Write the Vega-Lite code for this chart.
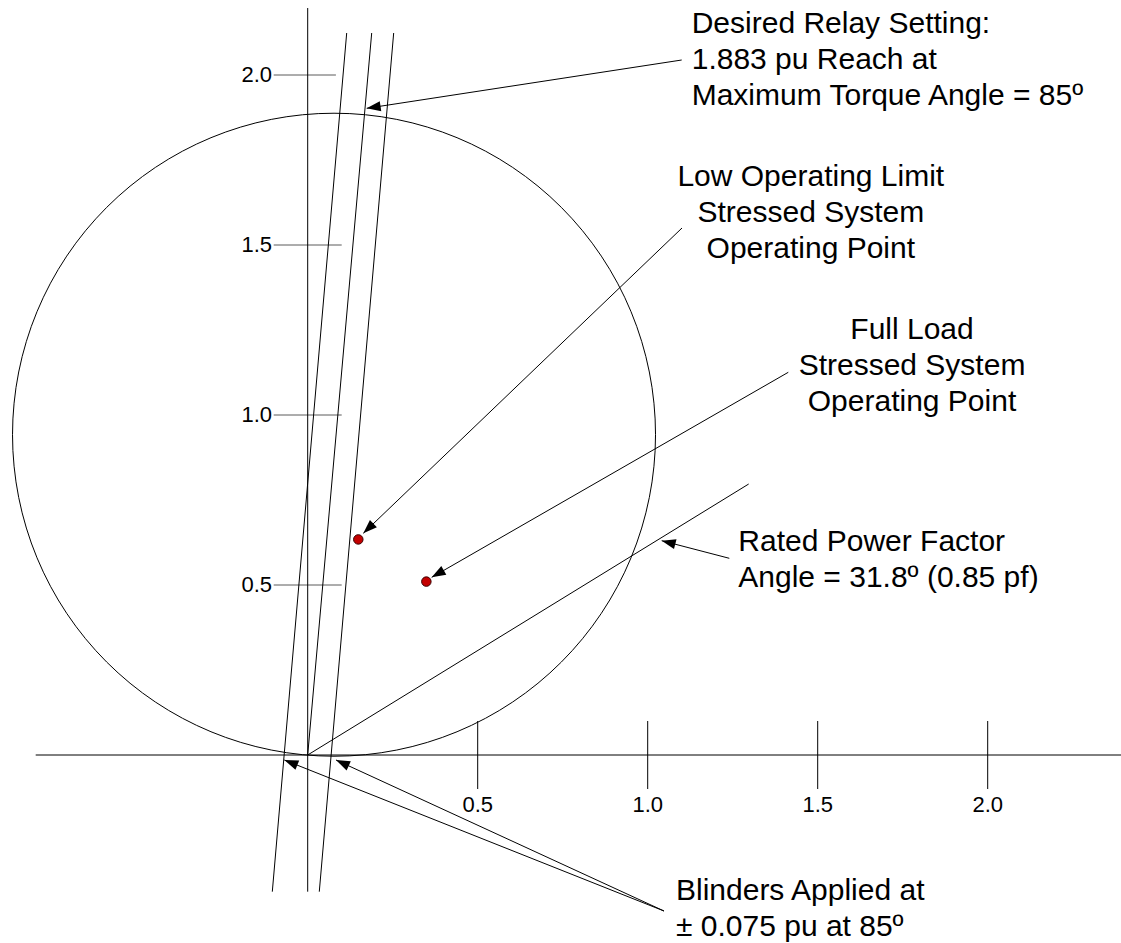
{
  "$schema": "https://vega.github.io/schema/vega-lite/v6.json",
  "width": 1121,
  "height": 943,
  "autosize": "none",
  "padding": 0,
  "background": "white",
  "config": {"view": {"stroke": null}},
  "datasets": {
    "lines": [
      {"x": 0, "y": 2.197, "x2": 0, "y2": -0.402},
      {"x": -0.80, "y": 0, "x2": 2.40, "y2": 0},
      {"x": 0, "y": 0, "x2": 0.1882, "y2": 2.1235},
      {"x": 0.1147, "y": 2.1235, "x2": -0.1041, "y2": -0.402},
      {"x": 0.2529, "y": 2.1235, "x2": 0.0341, "y2": -0.402},
      {"x": 0, "y": 0, "x2": 1.297, "y2": 0.797},
      {"x": 0.5, "y": 0.1, "x2": 0.5, "y2": -0.1},
      {"x": 1.0, "y": 0.1, "x2": 1.0, "y2": -0.1},
      {"x": 1.5, "y": 0.1, "x2": 1.5, "y2": -0.1},
      {"x": 2.0, "y": 0.1, "x2": 2.0, "y2": -0.1}
    ],
    "yticks": [
      {"x": -0.1, "y": 2.0, "x2": 0.083, "y2": 2.0},
      {"x": -0.1, "y": 1.5, "x2": 0.1, "y2": 1.5},
      {"x": -0.1, "y": 1.0, "x2": 0.1, "y2": 1.0},
      {"x": -0.1, "y": 0.5, "x2": 0.1, "y2": 0.5}
    ],
    "ylabels": [
      {"x": -0.105, "y": 2.0, "label": "2.0"},
      {"x": -0.105, "y": 1.5, "label": "1.5"},
      {"x": -0.105, "y": 1.0, "label": "1.0"},
      {"x": -0.105, "y": 0.5, "label": "0.5"}
    ],
    "xlabels": [
      {"x": 0.5, "y": -0.167, "label": "0.5"},
      {"x": 1.0, "y": -0.167, "label": "1.0"},
      {"x": 1.5, "y": -0.167, "label": "1.5"},
      {"x": 2.0, "y": -0.167, "label": "2.0"}
    ],
    "circle": [{"cx": 0.0774, "cy": 0.942}],
    "points": [
      {"x": 0.1488, "y": 0.634, "name": "Low Operating Limit"},
      {"x": 0.349, "y": 0.510, "name": "Full Load"}
    ],
    "arrows": [
      {"tx": 1.1, "ty": 2.0441, "hx": 0.1735, "hy": 1.902},
      {"tx": 1.1009, "ty": 1.55, "hx": 0.1635, "hy": 0.652},
      {"tx": 1.4135, "ty": 1.1256, "hx": 0.3647, "hy": 0.5226},
      {"tx": 1.24, "ty": 0.5785, "hx": 1.0412, "hy": 0.6303},
      {"tx": 1.0479, "ty": -0.4588, "hx": -0.0688, "hy": -0.0147},
      {"tx": 1.0479, "ty": -0.4588, "hx": 0.0832, "hy": -0.0147}
    ],
    "notesLeft": [
      {"x": 1.1294, "y": 2.1226, "text": "Desired Relay Setting:\n1.883 pu Reach at\nMaximum Torque Angle = 85º"},
      {"x": 1.2665, "y": 0.6, "text": "Rated Power Factor\nAngle = 31.8º (0.85 pf)"},
      {"x": 1.0832, "y": -0.4265, "text": "Blinders Applied at\n± 0.075 pu at 85º"}
    ],
    "notesCenter": [
      {"x": 1.4797, "y": 1.675, "text": "Low Operating Limit\nStressed System\nOperating Point"},
      {"x": 1.7774, "y": 1.225, "text": "Full Load\nStressed System\nOperating Point"}
    ]
  },
  "layer": [
    {
      "data": {"name": "circle"},
      "mark": {"type": "point", "shape": "circle", "size": 413449, "filled": false, "stroke": "black", "strokeWidth": 1, "opacity": 1},
      "encoding": {
        "x": {"field": "cx", "type": "quantitative", "axis": null, "scale": {"domain": [-0.905, 2.39206], "nice": false, "zero": false}},
        "y": {"field": "cy", "type": "quantitative", "axis": null, "scale": {"domain": [-0.55294, 2.22059], "nice": false, "zero": false}}
      }
    },
    {
      "data": {"name": "yticks"},
      "mark": {"type": "rule", "stroke": "#5a5a5a", "strokeWidth": 1},
      "encoding": {
        "x": {"field": "x", "type": "quantitative", "axis": null, "scale": {"domain": [-0.905, 2.39206], "nice": false, "zero": false}},
        "y": {"field": "y", "type": "quantitative", "axis": null, "scale": {"domain": [-0.55294, 2.22059], "nice": false, "zero": false}},
        "x2": {"field": "x2"},
        "y2": {"field": "y2"}
      }
    },
    {
      "data": {"name": "lines"},
      "mark": {"type": "rule", "stroke": "black", "strokeWidth": 1},
      "encoding": {
        "x": {"field": "x", "type": "quantitative", "axis": null, "scale": {"domain": [-0.905, 2.39206], "nice": false, "zero": false}},
        "y": {"field": "y", "type": "quantitative", "axis": null, "scale": {"domain": [-0.55294, 2.22059], "nice": false, "zero": false}},
        "x2": {"field": "x2"},
        "y2": {"field": "y2"}
      }
    },
    {
      "data": {"name": "arrows"},
      "mark": {"type": "rule", "stroke": "black", "strokeWidth": 1},
      "encoding": {
        "x": {"field": "tx", "type": "quantitative", "axis": null, "scale": {"domain": [-0.905, 2.39206], "nice": false, "zero": false}},
        "y": {"field": "ty", "type": "quantitative", "axis": null, "scale": {"domain": [-0.55294, 2.22059], "nice": false, "zero": false}},
        "x2": {"field": "hx"},
        "y2": {"field": "hy"}
      }
    },
    {
      "data": {"name": "arrows"},
      "transform": [{"calculate": "atan2(datum.hx - datum.tx, datum.hy - datum.ty) * 180 / PI", "as": "ang"}],
      "mark": {"type": "point", "shape": "M0,0L-0.36,1L0.36,1Z", "size": 784, "filled": true, "fill": "black", "strokeWidth": 0, "opacity": 1},
      "encoding": {
        "x": {"field": "hx", "type": "quantitative", "axis": null, "scale": {"domain": [-0.905, 2.39206], "nice": false, "zero": false}},
        "y": {"field": "hy", "type": "quantitative", "axis": null, "scale": {"domain": [-0.55294, 2.22059], "nice": false, "zero": false}},
        "angle": {"field": "ang", "type": "quantitative", "scale": null}
      }
    },
    {
      "data": {"name": "points"},
      "mark": {"type": "point", "shape": "circle", "size": 90, "filled": true, "fill": "#c40000", "stroke": "#3a0000", "strokeWidth": 1, "opacity": 1},
      "encoding": {
        "x": {"field": "x", "type": "quantitative", "axis": null, "scale": {"domain": [-0.905, 2.39206], "nice": false, "zero": false}},
        "y": {"field": "y", "type": "quantitative", "axis": null, "scale": {"domain": [-0.55294, 2.22059], "nice": false, "zero": false}}
      }
    },
    {
      "data": {"name": "ylabels"},
      "mark": {"type": "text", "align": "right", "baseline": "middle", "font": "Liberation Sans", "fontSize": 22, "color": "black"},
      "encoding": {
        "x": {"field": "x", "type": "quantitative", "axis": null, "scale": {"domain": [-0.905, 2.39206], "nice": false, "zero": false}},
        "y": {"field": "y", "type": "quantitative", "axis": null, "scale": {"domain": [-0.55294, 2.22059], "nice": false, "zero": false}},
        "text": {"field": "label"}
      }
    },
    {
      "data": {"name": "xlabels"},
      "mark": {"type": "text", "align": "center", "baseline": "alphabetic", "font": "Liberation Sans", "fontSize": 22, "color": "black"},
      "encoding": {
        "x": {"field": "x", "type": "quantitative", "axis": null, "scale": {"domain": [-0.905, 2.39206], "nice": false, "zero": false}},
        "y": {"field": "y", "type": "quantitative", "axis": null, "scale": {"domain": [-0.55294, 2.22059], "nice": false, "zero": false}},
        "text": {"field": "label"}
      }
    },
    {
      "data": {"name": "notesLeft"},
      "mark": {"type": "text", "align": "left", "baseline": "alphabetic", "lineBreak": "\n", "lineHeight": 36, "font": "Liberation Sans", "fontSize": 30, "color": "black"},
      "encoding": {
        "x": {"field": "x", "type": "quantitative", "axis": null, "scale": {"domain": [-0.905, 2.39206], "nice": false, "zero": false}},
        "y": {"field": "y", "type": "quantitative", "axis": null, "scale": {"domain": [-0.55294, 2.22059], "nice": false, "zero": false}},
        "text": {"field": "text"}
      }
    },
    {
      "data": {"name": "notesCenter"},
      "mark": {"type": "text", "align": "center", "baseline": "alphabetic", "lineBreak": "\n", "lineHeight": 36, "font": "Liberation Sans", "fontSize": 30, "color": "black"},
      "encoding": {
        "x": {"field": "x", "type": "quantitative", "axis": null, "scale": {"domain": [-0.905, 2.39206], "nice": false, "zero": false}},
        "y": {"field": "y", "type": "quantitative", "axis": null, "scale": {"domain": [-0.55294, 2.22059], "nice": false, "zero": false}},
        "text": {"field": "text"}
      }
    }
  ]
}
